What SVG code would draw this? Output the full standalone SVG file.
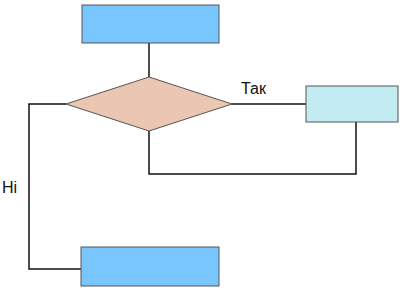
<svg xmlns="http://www.w3.org/2000/svg" width="403" height="295" viewBox="0 0 403 295">
<style>
.c{fill:none;stroke:#111;stroke-width:1.5}
.s{stroke:#555;stroke-width:1}
.t{font-family:"Liberation Sans",Arial,sans-serif;font-size:16px;fill:#111}
</style>
<rect width="403" height="295" fill="#fff"/>
<g id="connectors">
<path class="c" d="M149,43V77"/>
<path class="c" d="M232,104H306"/>
<path class="c" d="M356,122V174H149V131"/>
<path class="c" d="M66,104H29V269H81"/>
</g>
<g id="start"><rect class="s" x="82" y="5" width="137" height="38" fill="#79C5FD"/></g>
<g id="decision"><polygon class="s" points="149,77 232,104 149,131 66,104" fill="#EBC6B3"/></g>
<g id="yes-box"><rect class="s" x="306" y="86" width="92" height="36" fill="#C2ECF2"/></g>
<g id="end"><rect class="s" x="81" y="247" width="138" height="39" fill="#79C5FD"/></g>
<text class="t" x="241" y="94">Так</text>
<text class="t" x="2" y="193">Ні</text>
</svg>
